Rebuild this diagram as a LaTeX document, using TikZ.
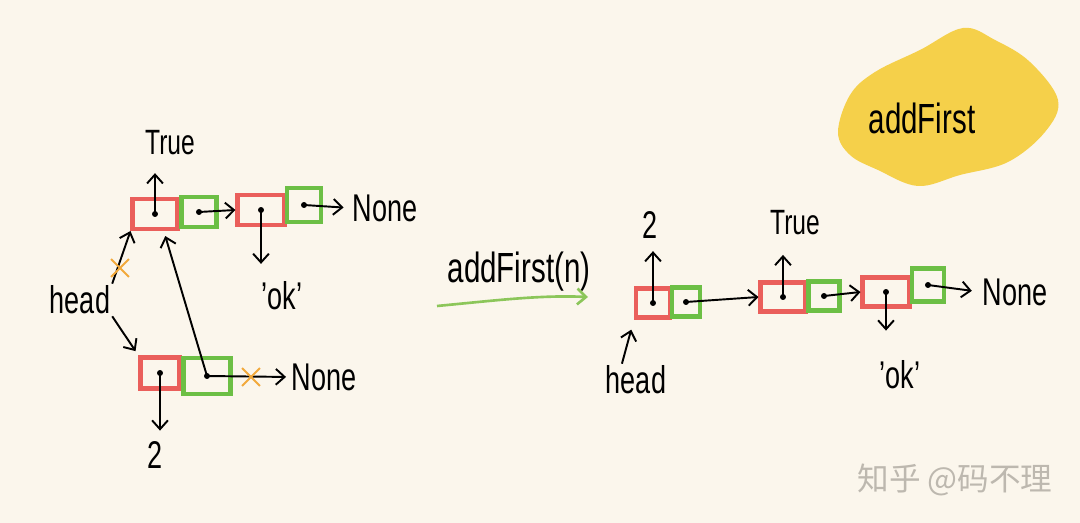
\documentclass[tikz,border=0pt]{standalone}
\usepackage{fontspec}
\setmainfont{Liberation Sans}[FakeStretch=0.7]
\newfontfamily\cjkfont{Noto Sans CJK SC}
\usepackage{tikz}
\usetikzlibrary{arrows.meta, positioning, shapes.misc}
\definecolor{paper}{HTML}{FBF6EC}
\definecolor{cellred}{HTML}{EA5F5B}
\definecolor{cellgreen}{HTML}{6CBF45}
\definecolor{crossorange}{HTML}{F2A93B}
\definecolor{marker}{HTML}{F5D04A}
\definecolor{arrowgreen}{HTML}{8CC65A}
\definecolor{wmgray}{HTML}{BDB8AF}

\tikzset{
  redcell/.style={draw=cellred, line width=2.3pt, inner sep=0pt},
  greencell/.style={draw=cellgreen, line width=2.3pt, inner sep=0pt},
  ptr/.style={-{Straight Barb[length=5pt,width=9pt]}, line width=1.1pt},
  hand/.style={font=\fontsize{#1}{#1}\selectfont, inner sep=1pt},
  crossmark/.style={cross out, draw=crossorange, line width=1.2pt, minimum size=9pt}
}

\begin{document}
\begin{tikzpicture}[x=0.02cm, y=-0.02cm]
\fill[paper] (0,0) rectangle (1080,523);
\useasboundingbox (0,0) rectangle (1080,523);

% marker blob
\fill[marker] plot[smooth cycle, tension=0.6] coordinates {
  (838,132) (850,95) (875,72) (920,50) (963,28) (995,40) (1030,62) (1058,100)
  (1045,132) (1008,162) (960,175) (918,186) (878,170) (850,155)};
\node[hand=24] (title) at (922,118) {addFirst};

% left: before
\node[redcell, minimum width=0.9cm, minimum height=0.6cm] (a1) at (155,214) {};
\node[greencell, minimum width=0.7cm, minimum height=0.6cm] (a2) at (199,212) {};
\node[redcell, minimum width=0.94cm, minimum height=0.6cm] (b1) at (261,210) {};
\node[greencell, minimum width=0.68cm, minimum height=0.68cm] (b2) at (304,205) {};
\node[redcell, minimum width=0.78cm, minimum height=0.62cm] (c1) at (160,373) {};
\node[greencell, minimum width=0.94cm, minimum height=0.72cm] (c2) at (207,376) {};

\node[hand=20] (tA) at (170,143) {True};
\node[hand=22] (nB) at (385,208) {None};
\node[hand=22] (okB) at (282,296) {'ok'};
\node[hand=22] (hL) at (80,300) {head};
\node[hand=22] (nC) at (324,377) {None};
\node[hand=22] (twoC) at (155,455) {2};

\foreach \n in {a1,a2,b1,b2,c1,c2}
  \fill (\n.center) circle[radius=1.7pt];

\draw[ptr, shorten >=9pt] (a1.center) -- (a1.center |- tA.south);
\draw[ptr] (a2.center) -- (b1.west);
\draw[ptr, shorten >=9pt] (b1.center) -- (b1.center |- okB.north);
\draw[ptr, shorten >=4pt] (b2.center) -- (nB.west);
\draw[ptr] (hL.north east) -- (a1.south west);
\draw[ptr, shorten >=3pt] (hL.south east) -- (c1.north west);
\draw[ptr, shorten >=5pt] (c1.center) -- (c1.center |- twoC.north);
\draw[ptr, shorten >=2pt] (c2.center) -- (nC.west);
\draw[ptr, shorten >=3pt] (c2.center) -- ([xshift=5pt]a1.south);
\node[crossmark] (x1) at (120,268) {};
\node[crossmark] (x2) at (251,377) {};

% middle
\node[hand=24] (op) at (519,272) {addFirst(n)};
\coordinate (gstart) at (437,306);
\coordinate (gend) at (588,297);
\draw[ptr, draw=arrowgreen, line width=1.5pt] (gstart) .. controls (500,300) and (540,295) .. (gend);

% right: after
\node[redcell, minimum width=0.68cm, minimum height=0.58cm] (d1) at (653,303) {};
\node[greencell, minimum width=0.56cm, minimum height=0.58cm] (d2) at (686,302) {};
\node[redcell, minimum width=0.9cm, minimum height=0.58cm] (e1) at (783,297) {};
\node[greencell, minimum width=0.62cm, minimum height=0.58cm] (e2) at (824,296) {};
\node[redcell, minimum width=0.94cm, minimum height=0.58cm] (f1) at (886,292) {};
\node[greencell, minimum width=0.64cm, minimum height=0.66cm] (f2) at (928,285) {};

\node[hand=22] (twoD) at (650,225) {2};
\node[hand=20] (tE) at (795,223) {True};
\node[hand=22] (okF) at (900,375) {'ok'};
\node[hand=22] (nF) at (1015,292) {None};
\node[hand=22] (hR) at (636,380) {head};

\foreach \n in {d1,d2,e1,e2,f1,f2}
  \fill (\n.center) circle[radius=1.7pt];

\draw[ptr, shorten >=6pt] (d1.center) -- (d1.center |- twoD.south);
\draw[ptr] (d2.center) -- (e1.west);
\draw[ptr, shorten >=10pt] (e1.center) -- (e1.center |- tE.south);
\draw[ptr] (e2.center) -- (f1.west);
\draw[ptr, shorten >=16pt] (f1.center) -- (f1.center |- okF.north);
\draw[ptr, shorten >=5pt] (f2.center) -- (nF.west);
\draw[ptr, shorten >=6pt] ([xshift=-8pt]hR.north) -- (d1.south west);

% watermark
\node[font=\cjkfont\fontsize{18}{18}\selectfont, text=wmgray] (wm) at (955,480) {知乎 @码不理};
\end{tikzpicture}
\end{document}
